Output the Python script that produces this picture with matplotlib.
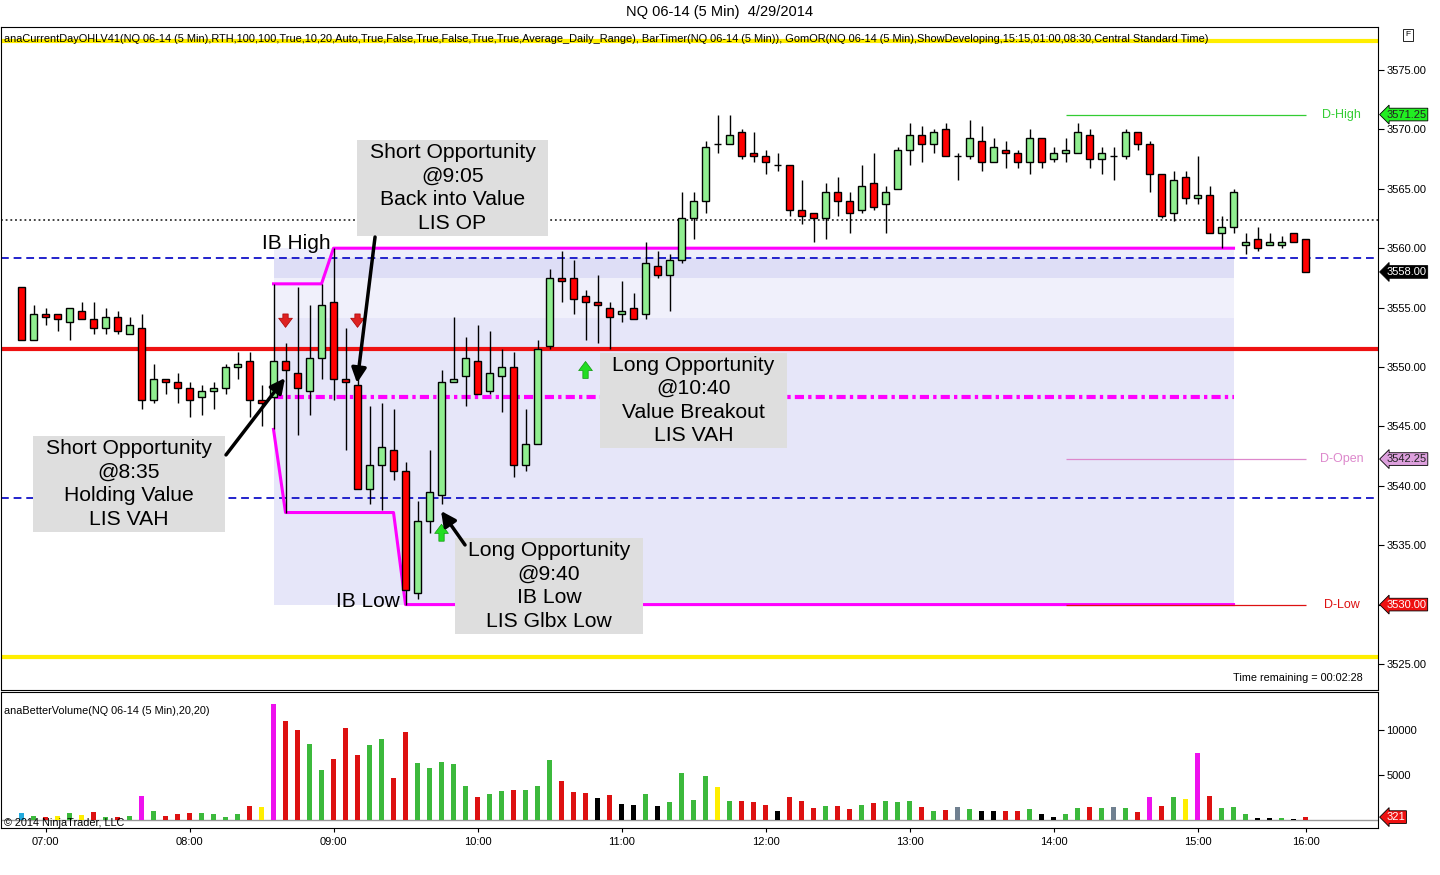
import numpy as np
import pandas as pd
import matplotlib
matplotlib.use('Agg')
import matplotlib.pyplot as plt

plt.rcParams['font.family'] = ['Liberation Sans', 'DejaVu Sans']

# czasy zamkniecia swiec 5 min (przerwa sesji 15:15-15:30)
times = list(pd.date_range('2014-04-29 06:50', '2014-04-29 15:15', freq='5min').strftime('%H:%M')) + \
        list(pd.date_range('2014-04-29 15:35', '2014-04-29 16:00', freq='5min').strftime('%H:%M'))

opens = [3556.75, 3552.25, 3554.5, 3554.5, 3553.75, 3554.75, 3554.0, 3553.25, 3554.25, 3552.75,
         3553.25, 3547.25, 3549.0, 3548.75, 3548.25, 3547.5, 3548.0, 3548.25, 3550.0, 3550.5,
         3547.25, 3547.5, 3550.5, 3549.5, 3548.0, 3550.75, 3555.5, 3549.0, 3548.5, 3539.75,
         3541.75, 3543.0, 3541.25, 3531.0, 3537.0, 3539.25, 3548.75, 3549.25, 3550.5, 3548.0,
         3549.25, 3550.0, 3541.75, 3543.5, 3551.75, 3557.5, 3557.5, 3556.0, 3555.5, 3555.0,
         3554.5, 3555.0, 3554.5, 3558.5, 3557.75, 3559.0, 3562.5, 3564.0, 3568.75, 3568.75,
         3569.75, 3568.0, 3567.75, 3567.0, 3567.0, 3563.25, 3563.0, 3562.5, 3564.75, 3564.0,
         3563.25, 3565.5, 3563.75, 3565.0, 3568.25, 3569.5, 3568.75, 3570.0, 3567.75, 3567.75,
         3569.0, 3567.25, 3568.25, 3568.0, 3567.25, 3569.25, 3567.5, 3568.0, 3568.0, 3569.5,
         3567.5, 3567.75, 3567.75, 3569.75, 3568.75, 3566.25, 3563.0, 3566.0, 3564.25, 3564.5,
         3561.25, 3561.75, 3560.25, 3560.75, 3560.25, 3560.25, 3561.25, 3560.75]
highs = [3556.75, 3555.25, 3555.0, 3554.5, 3555.0, 3555.5, 3555.5, 3555.0, 3554.75, 3554.25,
         3554.5, 3550.25, 3549.0, 3549.5, 3548.75, 3548.5, 3548.75, 3550.25, 3551.25, 3551.25,
         3548.5, 3557.0, 3552.0, 3556.75, 3555.25, 3557.0, 3560.0, 3553.25, 3549.0, 3546.75,
         3547.0, 3546.5, 3542.0, 3538.75, 3543.0, 3549.75, 3554.25, 3552.5, 3553.5, 3553.0,
         3551.5, 3551.25, 3546.5, 3552.25, 3558.25, 3559.75, 3559.0, 3556.5, 3557.75, 3555.5,
         3557.25, 3556.25, 3560.5, 3559.75, 3559.5, 3564.75, 3564.75, 3569.0, 3571.25, 3571.25,
         3570.0, 3569.75, 3568.25, 3568.0, 3567.0, 3565.75, 3563.0, 3565.5, 3566.0, 3564.75,
         3567.0, 3568.0, 3565.25, 3568.5, 3570.5, 3570.25, 3570.0, 3570.5, 3568.0, 3570.75,
         3570.25, 3569.25, 3569.0, 3568.25, 3570.0, 3569.25, 3568.5, 3569.25, 3570.5, 3570.0,
         3568.5, 3568.5, 3570.0, 3569.75, 3569.0, 3566.25, 3566.5, 3566.5, 3567.75, 3565.25,
         3562.75, 3565.0, 3561.25, 3561.75, 3561.25, 3561.0, 3561.25, 3560.75]
lows = [3552.25, 3552.25, 3553.5, 3553.0, 3552.25, 3554.0, 3552.75, 3552.75, 3552.75, 3552.75,
        3546.5, 3547.0, 3547.75, 3547.0, 3545.75, 3546.0, 3546.5, 3547.75, 3549.0, 3545.75,
        3545.0, 3544.75, 3537.75, 3544.25, 3546.0, 3549.0, 3547.25, 3543.0, 3539.75, 3538.5,
        3538.0, 3540.5, 3530.0, 3530.5, 3536.0, 3538.5, 3548.75, 3546.75, 3547.75, 3547.75,
        3546.25, 3540.75, 3541.25, 3543.5, 3551.5, 3555.5, 3554.5, 3552.25, 3552.0, 3551.5,
        3553.75, 3554.0, 3554.0, 3557.5, 3554.75, 3558.75, 3560.75, 3563.0, 3568.0, 3568.75,
        3567.5, 3567.25, 3566.25, 3566.5, 3562.75, 3562.0, 3560.5, 3560.75, 3562.75, 3561.25,
        3563.0, 3563.25, 3561.25, 3565.0, 3567.0, 3567.25, 3568.0, 3567.75, 3565.75, 3567.5,
        3566.5, 3567.25, 3566.75, 3566.75, 3566.25, 3566.75, 3567.25, 3567.25, 3568.0, 3566.75,
        3566.25, 3565.75, 3567.5, 3568.25, 3564.75, 3562.5, 3562.25, 3563.75, 3563.75, 3561.25,
        3560.0, 3561.25, 3559.5, 3559.75, 3560.25, 3560.0, 3560.5, 3558.0]
closes = [3552.25, 3554.5, 3554.25, 3554.0, 3555.0, 3554.0, 3553.25, 3554.25, 3553.0, 3553.5,
          3547.25, 3549.0, 3548.75, 3548.25, 3547.25, 3548.0, 3548.25, 3550.0, 3550.25, 3547.25,
          3547.0, 3550.5, 3549.75, 3548.25, 3550.75, 3555.25, 3549.0, 3548.75, 3539.75, 3541.75,
          3543.25, 3541.25, 3531.25, 3537.0, 3539.5, 3548.75, 3549.0, 3550.75, 3547.75, 3549.5,
          3550.0, 3541.75, 3543.5, 3551.5, 3557.5, 3557.25, 3555.75, 3555.5, 3555.25, 3554.25,
          3554.75, 3554.0, 3558.75, 3557.75, 3559.0, 3562.5, 3564.0, 3568.5, 3568.75, 3569.5,
          3567.75, 3567.75, 3567.25, 3567.0, 3563.25, 3562.75, 3562.5, 3564.75, 3564.0, 3563.0,
          3565.25, 3563.5, 3564.75, 3568.25, 3569.5, 3568.75, 3569.75, 3567.75, 3567.75, 3569.25,
          3567.25, 3568.5, 3568.0, 3567.25, 3569.25, 3567.25, 3568.0, 3568.25, 3569.75, 3567.5,
          3568.0, 3567.75, 3569.75, 3568.75, 3566.25, 3562.75, 3565.75, 3564.25, 3564.5, 3561.25,
          3561.75, 3564.75, 3560.5, 3560.0, 3560.5, 3560.5, 3560.5, 3558.0]

volumes = [780, 440, 300, 430, 780, 560, 890, 330, 330, 440,
           2670, 1000, 480, 670, 780, 780, 670, 330, 670, 1560,
           1440, 12890, 11000, 10000, 8440, 5560, 6780, 10220, 7220, 8330,
           9000, 4670, 9780, 6330, 5780, 6440, 6220, 3780, 2560, 2890,
           3220, 3330, 3330, 3780, 6670, 4330, 3110, 3000, 2440, 2780,
           1780, 1670, 2890, 1560, 2000, 5220, 2220, 4890, 3670, 2110,
           2110, 2000, 1670, 1000, 2560, 2110, 1330, 1560, 1560, 1220,
           1670, 1890, 2110, 2000, 2110, 1440, 1000, 1110, 1440, 1220,
           1000, 1000, 1000, 1000, 1220, 670, 330, 670, 1330, 1440,
           1330, 1440, 1330, 890, 2560, 1560, 2560, 2330, 7440, 2670,
           1330, 1440, 670, 220, 220, 220, 110, 321]
vol_kind = list('cgrygyrgrg' 'mgrrrggggr' 'ymrrggrrrg' 'grrgggggrg' 'grgggrrrkr'
                'kkgkggggyg' 'rrrkrrrgrr' 'grgggrgrsg' 'kkrrgkkggr' 'gsgrmrgymr' 'gggkkgkr')
vol_palette = {'g': '#3cb93c', 'r': '#dd1111', 'm': '#ee11ee', 'y': '#ffee00',
               'k': '#000000', 's': '#708090', 'c': '#22aadd'}

# poziomy
yellow_levels = [3577.4, 3525.6]
dotted_level = 3562.4
value_area = [3559.2, 3539.0]
red_level = 3551.5
or_mid = 3547.5
d_high, d_open, d_low, last_px = 3571.25, 3542.25, 3530.00, 3558.00
band_edges = [3560.0, 3559.2, 3557.5, 3554.1, 3530.0]
band_colors = ['#eeeefb', '#dedef6', '#f0f0fb', '#e6e6f9']

short_sig = ['08:40', '09:10']
short_sig_px = [3553.1, 3553.1]
long_sig = ['09:45', '10:45']
long_sig_px = [3537.0, 3550.7]

hour_labels = ['07:00', '08:00', '09:00', '10:00', '11:00', '12:00', '13:00', '14:00', '15:00', '16:00']

x = np.arange(len(times))
o, h, l, c = map(np.array, (opens, highs, lows, closes))
ib0, ib1, ib_end = times.index('08:35'), times.index('09:30'), times.index('15:15')

fig = plt.figure(figsize=(14.4, 8.75), dpi=100)
ax = fig.add_axes([1/1440, 1-690/875, 1377/1440, 663/875])
axv = fig.add_axes([1/1440, 1-828/875, 1377/1440, 136/875], sharex=ax)

# strefa IB
for y0, y1, col in zip(band_edges[:-1], band_edges[1:], band_colors):
    ax.fill_between([ib0, ib_end], y1, y0, color=col, lw=0, zorder=1)

for yl in yellow_levels:
    ax.axhline(yl, color='#ffee00', lw=3, zorder=2)
ax.axhline(dotted_level, color='#333333', lw=1.3, ls=(0, (1, 1.6)), zorder=2)
for yl in value_area:
    ax.axhline(yl, color='#2222cc', lw=1.4, ls=(0, (4, 2.5)), zorder=2)
ax.axhline(red_level, color='#ee1111', lw=3, zorder=2)
ax.hlines(or_mid, ib0, ib_end, color='#ff00ff', lw=3, linestyles=[(0, (2.2, 1, 0.8, 1))], zorder=2)

ib_hi = np.maximum.accumulate(h[ib0:ib1 + 1])
ib_lo = np.minimum.accumulate(l[ib0:ib1 + 1])
ib_x = list(x[ib0:ib1 + 1]) + [ib_end]
ax.plot(ib_x, list(ib_hi) + [ib_hi[-1]], color='#ff00ff', lw=2.2, zorder=3)
ax.plot(ib_x, list(ib_lo) + [ib_lo[-1]], color='#ff00ff', lw=2.2, zorder=3)

# D-High / D-Open / D-Low
for lv, col, name in [(d_high, '#33cc33', 'D-High'), (d_open, '#dd88cc', 'D-Open'), (d_low, '#dd1111', 'D-Low')]:
    ax.hlines(lv, 87, len(x) - 1, color=col, lw=0.9, zorder=3)
    ax.text(110.0, lv, name, color=col, fontsize=9, ha='center', va='center')

# swiece
up = c >= o
ax.vlines(x, l, h, color='black', lw=1, zorder=4)
ax.bar(x, np.abs(c - o), bottom=np.minimum(o, c), width=0.66,
       color=np.where(up, '#90ee90', '#ff0000'), edgecolor='black', lw=1, zorder=5)

# sygnaly
for t, p in zip(short_sig, short_sig_px):
    ax.annotate('', xy=(times.index(t), p), xytext=(times.index(t), p + 1.6),
                arrowprops=dict(arrowstyle='simple,head_width=0.9,head_length=0.6,tail_width=0.35',
                                fc='#dd2222', ec='#aa0000', lw=0.5, mutation_scale=11), zorder=6)
for t, p in zip(long_sig, long_sig_px):
    ax.annotate('', xy=(times.index(t), p), xytext=(times.index(t), p - 1.9),
                arrowprops=dict(arrowstyle='simple,head_width=0.9,head_length=0.6,tail_width=0.35',
                                fc='#22dd22', ec='#119911', lw=0.5, mutation_scale=11), zorder=6)

# opisy
boxes = [((27.96, 43.88, 3561.03, 3569.11), 'Short Opportunity\n@9:05\nBack into Value\nLIS OP'),
         ((0.96, 16.96, 3536.11, 3544.19), 'Short Opportunity\n@8:35\nHolding Value\nLIS VAH'),
         ((36.13, 51.79, 3527.53, 3535.61), 'Long Opportunity\n@9:40\nIB Low\nLIS Glbx Low'),
         ((48.21, 63.8, 3543.18, 3551.18), 'Long Opportunity\n@10:40\nValue Breakout\nLIS VAH')]
for (x0, x1, y0, y1), txt in boxes:
    ax.add_patch(plt.Rectangle((x0, y0), x1 - x0, y1 - y0, fc='#dedede', ec='none', zorder=7))
    ax.text((x0 + x1) / 2, (y0 + y1) / 2, txt, ha='center', va='center', fontsize=15.2,
            linespacing=1.3, zorder=8)
for tail, head in [((29.46, 3560.94), (27.96, 3548.65)),
                   ((17.04, 3542.6), (21.96, 3549.07)),
                   ((36.96, 3535.02), (34.96, 3537.88))]:
    ax.annotate('', xy=head, xytext=tail,
                arrowprops=dict(arrowstyle='-|>', color='black', lw=2.5, mutation_scale=22,
                                shrinkA=0, shrinkB=0), zorder=9)
ax.text(22.9, 3560.4, 'IB High', fontsize=15, ha='center', va='center', zorder=8)
ax.text(28.9, 3530.3, 'IB Low', fontsize=15, ha='center', va='center', zorder=8)

ax.text(0.002, 0.982, 'anaCurrentDayOHLV41(NQ 06-14 (5 Min),RTH,100,100,True,10,20,Auto,True,False,True,False,True,True,'
        'Average_Daily_Range), BarTimer(NQ 06-14 (5 Min)), GomOR(NQ 06-14 (5 Min),ShowDeveloping,15:15,01:00,08:30,'
        'Central Standard Time)', transform=ax.transAxes, fontsize=7.95, va='center', ha='left',
        family=['Liberation Sans Narrow', 'Liberation Sans'])
ax.text(0.989, 0.018, 'Time remaining = 00:02:28', transform=ax.transAxes, fontsize=7.8, ha='right', va='center')

ax.set_xlim(-1.71, 113.04)
ax.set_ylim(3522.81, 3578.62)
ax.yaxis.tick_right()
ax.set_yticks(np.arange(3525, 3576, 5))
ax.set_yticklabels([f'{v:.2f}' for v in np.arange(3525, 3576, 5)])
ax.tick_params(axis='y', labelsize=8, length=4, pad=2)
ax.tick_params(axis='x', bottom=False, labelbottom=False)


def price_tag(axis, y, txt, fc, tc):
    axis.annotate(txt, xy=(1.0, y), xycoords=('axes fraction', 'data'), xytext=(6, 0),
                  textcoords='offset points', va='center', ha='left', fontsize=8, color=tc,
                  bbox=dict(boxstyle='larrow,pad=0.12', fc=fc, ec='black', lw=0.6), zorder=10)


price_tag(ax, d_high, f'{d_high:.2f}', '#22ee22', '#222222')
price_tag(ax, last_px, f'{last_px:.2f}', '#000000', 'white')
price_tag(ax, d_open, f'{d_open:.2f}', '#dda0dd', '#222222')
price_tag(ax, d_low, f'{d_low:.2f}', '#ee1111', 'white')

# wolumen
axv.axhline(0, color='#999999', lw=1, zorder=1)
axv.bar(x, volumes, width=0.34, color=[vol_palette[k] for k in vol_kind], zorder=2)
axv.set_ylim(-890, 14220)
axv.yaxis.tick_right()
axv.set_yticks([5000, 10000])
axv.tick_params(axis='y', labelsize=8, length=4, pad=2)
axv.set_xticks([times.index(t) for t in hour_labels])
axv.set_xticklabels(hour_labels)
axv.tick_params(axis='x', labelsize=8, length=3)
price_tag(axv, volumes[-1], str(volumes[-1]), '#ee1111', 'white')
axv.text(0.002, 0.86, 'anaBetterVolume(NQ 06-14 (5 Min),20,20)', transform=axv.transAxes, fontsize=7.8, va='center')
axv.text(0.002, 0.04, '\u00a9 2014 NinjaTrader, LLC', transform=axv.transAxes, fontsize=7.8, va='center')

fig.text(0.5, 1 - 12/875, 'NQ 06-14 (5 Min)  4/29/2014', ha='center', va='center', fontsize=10.5)
fig.text(1408/1440, 1 - 35/875, 'F', ha='center', va='center', fontsize=6,
         bbox=dict(boxstyle='square,pad=0.25', fc='white', ec='black', lw=0.6))

fig.savefig('out.png', dpi=100)
